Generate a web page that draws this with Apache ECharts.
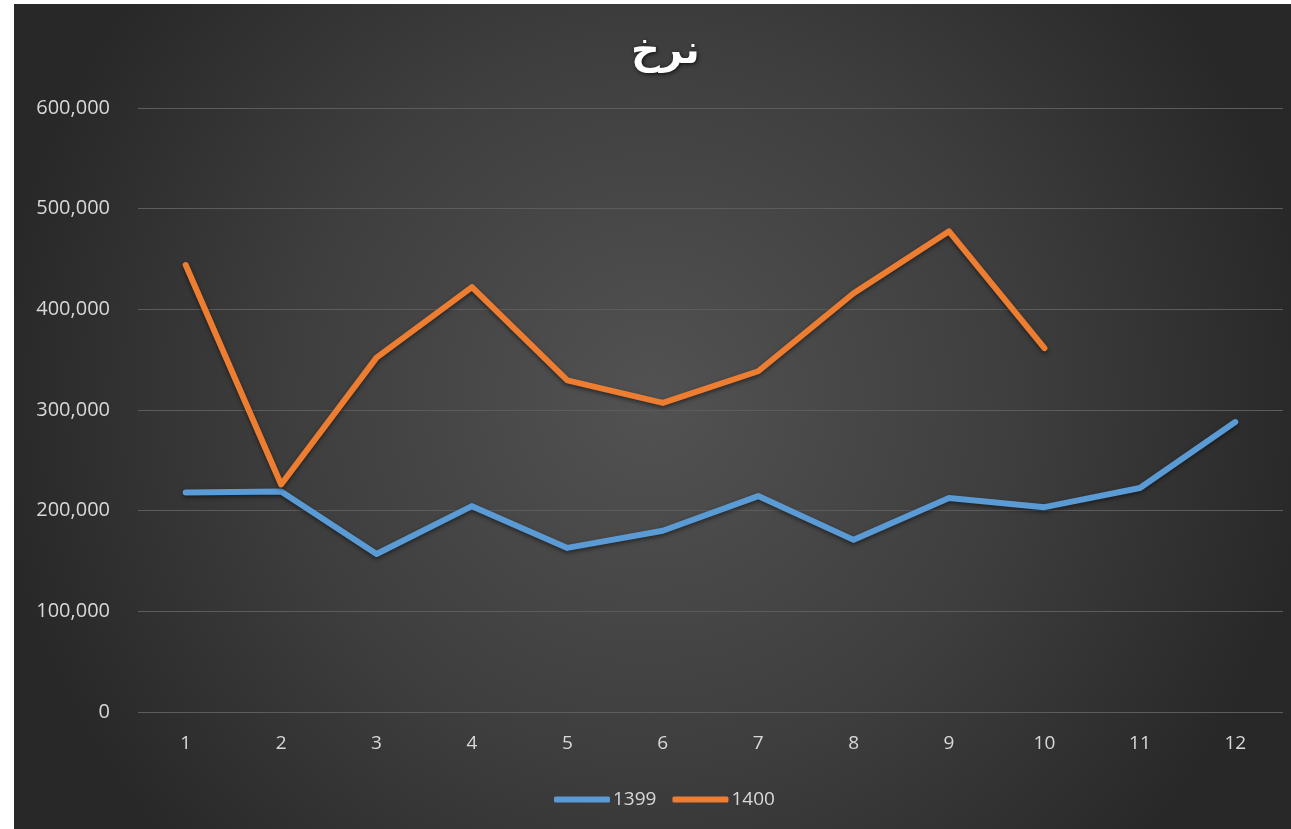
<!DOCTYPE html>
<html><head><meta charset="utf-8">
<script src="https://cdn.jsdelivr.net/npm/echarts@6/dist/echarts.min.js"></script>
<style>
html,body{margin:0;padding:0;background:#fff;width:1291px;height:829px;overflow:hidden}
#c{position:absolute;left:14px;top:4px;width:1277px;height:825px}
</style></head><body>
<div id="c"></div>
<script>
const categories = ['1','2','3','4','5','6','7','8','9','10','11','12'];
const s1399 = [218000, 219000, 157000, 204500, 163000, 180000, 214500, 171000, 212500, 203500, 222500, 288000];
const s1400 = [444000, 226000, 352000, 422000, 329500, 307000, 338500, 416000, 477500, 361500];
const yTicks = [0, 600000, 100000];

const chart = echarts.init(document.getElementById('c'));
chart.setOption({
  backgroundColor: {
    type: 'radial', x: 0.5, y: 0.48, r: 0.8,
    colorStops: [{offset: 0, color: '#525252'}, {offset: 0.55, color: '#3e3e3e'}, {offset: 1, color: '#282828'}]
  },
  title: {
    text: 'نرخ', left: 612, top: 24,
    textStyle: {color: '#ffffff', fontSize: 40, fontWeight: 'bold', fontFamily: 'DejaVu Sans',
      textShadowColor: 'rgba(0,0,0,0.8)', textShadowBlur: 4, textShadowOffsetX: 1, textShadowOffsetY: 1}
  },
  legend: {
    bottom: 15, left: 535, itemWidth: 56, itemHeight: 6, itemGap: 16,
    icon: 'roundRect',
    textStyle: {color: '#d9d9d9', fontSize: 19, fontFamily: 'Open Sans', padding: [0, 0, 0, -2]},
    data: ['1399', '1400']
  },
  grid: {left: 124, right: 8, top: 104, bottom: 117},
  xAxis: {
    type: 'category', data: categories, boundaryGap: true,
    axisLine: {show: false}, axisTick: {show: false},
    axisLabel: {color: '#d9d9d9', fontSize: 19, margin: 22, fontFamily: 'Open Sans'}
  },
  yAxis: {
    type: 'value', min: yTicks[0], max: yTicks[1], interval: yTicks[2],
    axisLine: {show: false}, axisTick: {show: false},
    axisLabel: {color: '#d9d9d9', fontSize: 20, margin: 28, fontFamily: 'Open Sans',
      formatter: v => v.toLocaleString('en-US')},
    splitLine: {lineStyle: {color: '#5c5c5c', width: 1}}
  },
  series: [
    {name: '1399', type: 'line', data: s1399, symbol: 'none', smooth: false,
      lineStyle: {color: '#5b9bd5', width: 6, cap: 'round', join: 'round',
        shadowColor: 'rgba(0,0,0,0.5)', shadowBlur: 4, shadowOffsetY: 2},
      itemStyle: {color: '#5b9bd5'}},
    {name: '1400', type: 'line', data: s1400, symbol: 'none', smooth: false,
      lineStyle: {color: '#ed7d31', width: 6, cap: 'round', join: 'round',
        shadowColor: 'rgba(0,0,0,0.5)', shadowBlur: 4, shadowOffsetY: 2},
      itemStyle: {color: '#ed7d31'}}
  ]
});
</script>
</body></html>
